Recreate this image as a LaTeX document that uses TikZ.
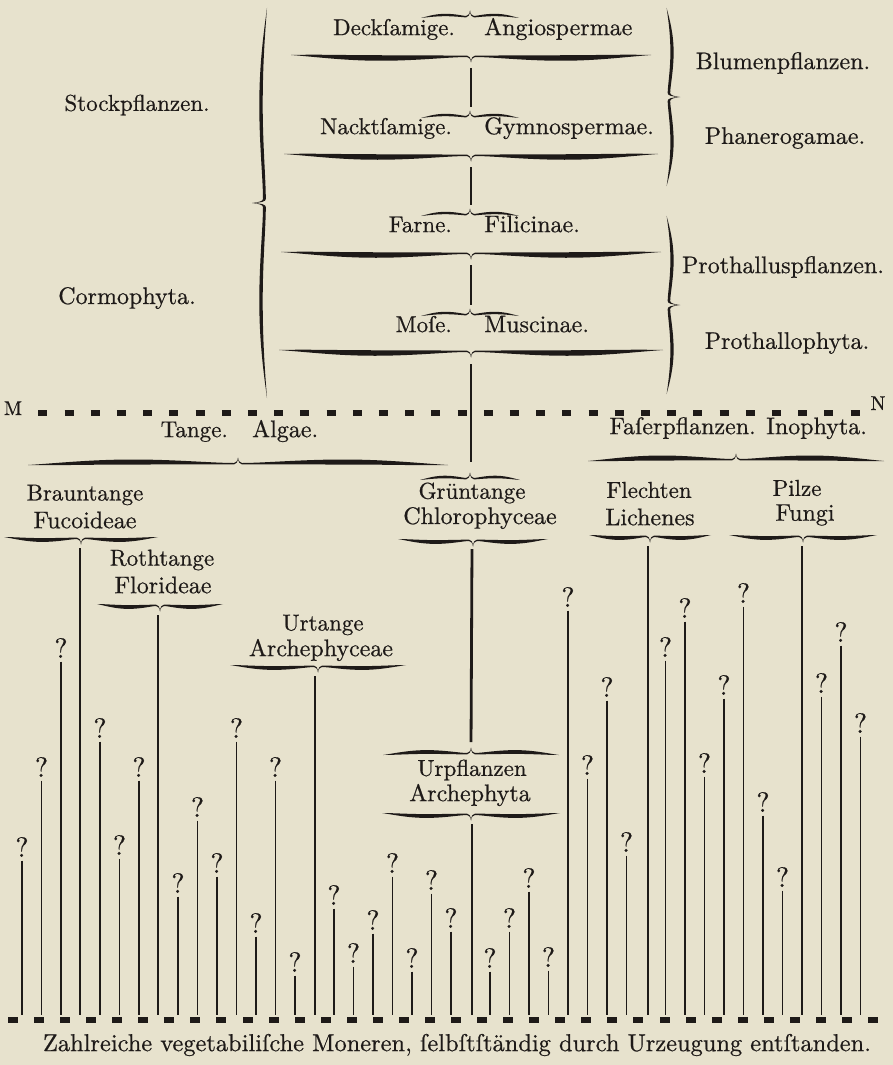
\documentclass[tikz,border=0pt]{standalone}
\usepackage{fontspec}
\newfontfamily\inkserif{lmroman10-regular.otf}[FakeBold=0.6]
\usetikzlibrary{positioning,calc}
\definecolor{paper}{RGB}{231,226,205}
\definecolor{ink}{RGB}{30,26,24}
% tapered curly brace: [transform] {(tip)} {half width} {thickness}
\newcommand{\hbrace}[4][]{%
  \begin{scope}[shift={#2},#1]
    \foreach \s in {1,-1}{
      \fill[ink,xscale=\s] (-#3,-3)
        .. controls ({-0.85*#3},{-1-0.5*#4}) and ({-0.7*#3},{-0.5*#4}) .. ({-0.5*#3},{-0.5*#4})
        .. controls ({-0.3*#3},{-0.5*#4}) and ({-0.12*#3},-2.4) .. (-4,-2.4)
        .. controls (-1.5,-2.5) and (-0.3,0) .. (0,4.5)
        .. controls (-0.7,1.2) and (-1.8,-1.0) .. (-4,-1.0)
        .. controls ({-0.12*#3},-1.0) and ({-0.3*#3},{0.5*#4}) .. ({-0.5*#3},{0.5*#4})
        .. controls ({-0.7*#3},{0.5*#4}) and ({-0.85*#3},-1) .. cycle;
    }
  \end{scope}}

\begin{document}
\begin{tikzpicture}[x=1pt,y=-1pt,
    gl/.style={font=\inkserif\fontsize{23}{25}\selectfont,text=ink,inner sep=0pt},
    ll/.style={font=\inkserif\fontsize{24}{26}\selectfont,text=ink,inner sep=0pt},
    qmark/.style={font=\inkserif\fontsize{28}{28}\selectfont,text=ink,inner sep=3.5pt},
    stem/.style={draw=ink,line width=2pt},
    trunk/.style={draw=ink,line width=2.8pt},
    twig/.style={draw=ink,line width=1.1pt}]
  \fill[paper] (0,0) rectangle (893,1065);
  \useasboundingbox (0,0) rectangle (893,1065);
  \coordinate (floor) at (0,1015);
  \coordinate (lvl) at (0,413);

  % Stockpflanzen
  \node[gl] (stock) at (137,105) {Stockpflanzen.};
  \node[ll] (cormo) at (127,298) {Cormophyta.};
  \hbrace[rotate=-90,yscale=2]{(261,203)}{195}{1.7}

  \hbrace[yscale=-1]{(470,15)}{49}{2.4}
  \coordinate (s1) at (471,11);
  \node[gl,anchor=mid east] (deck) at (455,33) {Deckſamige.};
  \node[ll,anchor=mid west] (angio) at (484,33) {Angiospermae};
  \hbrace{(471,58)}{180}{5.5}
  \coordinate (t1) at (471,62);

  \hbrace[yscale=-1]{(470,115)}{49}{2.4}
  \coordinate (s2) at (471,111);
  \node[gl,anchor=mid east] (nackt) at (452,132) {Nacktſamige.};
  \node[ll,anchor=mid west] (gymno) at (484,132) {Gymnospermae.};
  \hbrace{(471,157)}{187}{5.5}
  \coordinate (t2) at (471,161);

  \hbrace[yscale=-1]{(470,213)}{49}{2.4}
  \coordinate (s3) at (471,209);
  \node[gl,anchor=mid east] (farne) at (452,230) {Farne.};
  \node[ll,anchor=mid west] (filic) at (484,230) {Filicinae.};
  \hbrace{(471,255)}{190}{5.5}
  \coordinate (t3) at (471,259);

  \hbrace[yscale=-1]{(470,313)}{49}{2.4}
  \coordinate (s4) at (471,309);
  \node[gl,anchor=mid east] (mose) at (452,330) {Moſe.};
  \node[ll,anchor=mid west] (musci) at (484,330) {Muscinae.};
  \hbrace{(471,353)}{192}{5.5}
  \coordinate (t4) at (471,357);

  \draw[stem,shorten <=6pt,shorten >=4pt] (t1) -- (s2);
  \draw[stem,shorten <=6pt,shorten >=4pt] (t2) -- (s3);
  \draw[stem,shorten <=6pt,shorten >=4pt] (t3) -- (s4);

  % Blumenpflanzen, Prothalluspflanzen
  \hbrace[rotate=90,yscale=1.8]{(672,97)}{89}{1.8}
  \hbrace[rotate=90,yscale=1.8]{(672,305)}{89}{1.8}
  \node[gl,font=\inkserif\fontsize{24}{26}\selectfont] (blumen) at (783,63) {Blumenpflanzen.};
  \node[ll] (phaner) at (785,138) {Phanerogamae.};
  \node[gl,font=\inkserif\fontsize{24}{26}\selectfont] (proth) at (783,267) {Prothalluspflanzen.};
  \node[ll] (prothlat) at (787,343) {Prothallophyta.};

  % M ---- N
  \node[ll,font=\inkserif\fontsize{20}{20}\selectfont,anchor=base] (M) at (13,415) {M};
  \node[ll,font=\inkserif\fontsize{20}{20}\selectfont,anchor=base] (N) at (878,410) {N};
  \draw[ink,line width=5.5pt,dash pattern=on 9pt off 17.2pt,shorten <=16pt]
    (M.east |- lvl) -- (N.west |- lvl);

  % Tange, Faserpflanzen
  \node[gl,anchor=mid east] (tange) at (228,435) {Tange.};
  \node[ll,anchor=mid west] (algae) at (252,435) {Algae.};
  \hbrace[yscale=-1]{(238,462)}{210}{5}
  \node[gl,font=\inkserif\fontsize{24}{26}\selectfont,anchor=mid east] (faser) at (756,432) {Faſerpflanzen.};
  \node[ll,anchor=mid west] (ino) at (766,432) {Inophyta.};
  \hbrace[yscale=-1]{(736,458)}{148}{5}

  % Brauntange
  \node[gl] (braun) at (85,495) {Brauntange};
  \node[ll] (fuco) at (85,520) {Fucoideae};
  \hbrace{(81,540)}{77}{3.8}
  \coordinate (fucotip) at (80,544);
  % Rothtange
  \node[gl] (roth) at (162,560) {Rothtange};
  \node[ll] (flori) at (163,585) {Florideae};
  \hbrace{(160,607)}{63}{3.8}
  \coordinate (floritip) at (158,611);
  % Urtange
  \node[gl] (urt) at (323,625) {Urtange};
  \node[ll] (archphy) at (321,650) {Archephyceae};
  \hbrace{(318,668)}{88}{3.8}
  \coordinate (archtip) at (315,672);
  % Gruentange
  \hbrace[yscale=-1]{(470,477)}{50}{2.6}
  \coordinate (s5) at (471,473);
  \node[gl] (gruen) at (472,493) {Grüntange};
  \node[ll] (chloro) at (480,518) {Chlorophyceae};
  \hbrace{(473,542)}{75}{3.8}
  \coordinate (t5) at (472,546);
  % Urpflanzen
  \hbrace[yscale=-1]{(471,752)}{88}{3.8}
  \coordinate (s6) at (471,748);
  \node[gl] (urpfl) at (472,770) {Urpflanzen};
  \node[ll] (archphyta) at (470,795) {Archephyta};
  \hbrace{(471,816)}{89}{3.8}
  \coordinate (t6) at (472,820);
  % Flechten, Pilze
  \node[gl] (flecht) at (649,490) {Flechten};
  \node[ll] (lichen) at (650,517) {Lichenes};
  \hbrace{(650,538)}{61}{3.8}
  \coordinate (lichtip) at (648,542);
  \node[gl] (pilze) at (797,488) {Pilze};
  \node[ll] (fungi) at (805,515) {Fungi};
  \hbrace{(803,538)}{74}{3.8}
  \coordinate (fungtip) at (802,542);

  \draw[stem,shorten <=7pt,shorten >=11pt] (t4) -- (s5);
  \draw[trunk,shorten <=3pt,shorten >=6pt] (t5) -- (s6);
  \foreach \tip in {fucotip,floritip,archtip,t6,lichtip,fungtip}
    \draw[trunk,shorten <=4pt] (\tip) -- (\tip |- floor);

  % single lines with ?
  \foreach \i/\qy in {1/847,2/767,3/648,5/728,6/845,7/767,9/883,10/807,11/863,
      12/728,13/923,14/767,15/962,17/895,18/953,19/920,20/863,21/958,22/880,
      23/918,25/958,26/918,27/878,28/957,29/597,30/765,31/687,32/842,34/647,
      35/608,36/763,37/685,38/593,39/802,40/877,42/683,43/632,44/723}{
    \node[qmark] (q\i) at ({22+19.5*(\i-1)},\qy) {?};
    \draw[twig] (q\i) -- (q\i |- floor);
  }
  \foreach \k in {0,...,33}
    \fill[ink] ({13+26.06*\k-5},1017) rectangle ++(10,6);

  \node[gl,font=\inkserif\fontsize{24.4}{26}\selectfont] (moner) at (457,1045)
    {Zahlreiche vegetabiliſche Moneren, ſelbſtſtändig durch Urzeugung entſtanden.};
\end{tikzpicture}
\end{document}
